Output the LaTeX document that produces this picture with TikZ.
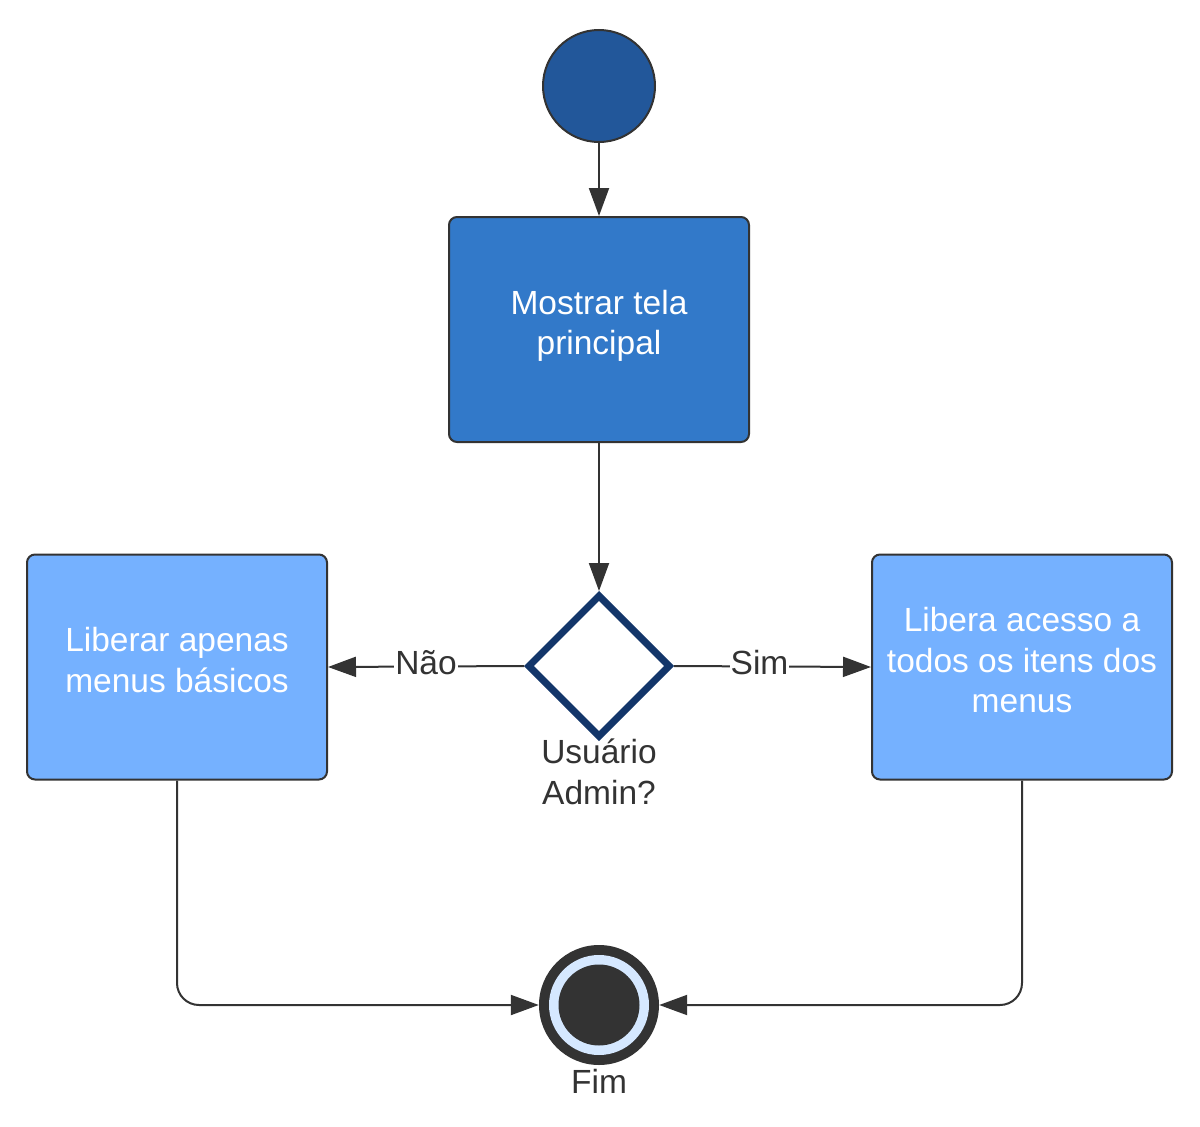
\documentclass[tikz,border=0pt]{standalone}
\usepackage{fontspec}
\setmainfont{Liberation Sans}
\usetikzlibrary{arrows.meta,shapes.geometric}
\definecolor{startblue}{HTML}{22579A}
\definecolor{mainblue}{HTML}{3279C9}
\definecolor{lightblue}{HTML}{75B1FF}
\definecolor{navy}{HTML}{13366A}
\definecolor{dark}{HTML}{333333}
\definecolor{ringblue}{HTML}{D5E8FF}
\tikzset{
  boxstyle/.style={rectangle, rounded corners=8pt, draw=dark, line width=2pt,
    minimum width=300pt, minimum height=225pt, inner sep=0pt, align=center,
    text=white, text depth=14pt, font=\fontsize{33.5}{40.5}\selectfont},
  arr/.style={draw=dark, line width=2pt, -{Triangle[length=28pt,width=20pt]}},
  lbl/.style={fill=white, inner xsep=1pt, inner ysep=0pt, text=dark, text height=18pt, text depth=0pt, font=\fontsize{33.5}{40.5}\selectfont},
  txt/.style={text=dark, inner sep=0pt, align=center, font=\fontsize{33.5}{40.5}\selectfont}
}
\begin{document}
\begin{tikzpicture}[x=1pt,y=-1pt]
\useasboundingbox (0,0) rectangle (1200,1127);
\node[circle, draw=dark, line width=2pt, fill=startblue, minimum size=112pt, inner sep=0pt] (start) at (599,86) {};
\node[boxstyle, fill=mainblue] (main) at (599,329.5) {Mostrar tela\\principal};
\node[diamond, draw=navy, fill=white, line width=7pt, minimum width=143pt, minimum height=143pt, inner sep=0pt] (dec) at (599,666) {};
\node[txt] (declbl) at (599,772) {Usuário\\Admin?};
\node[boxstyle, fill=lightblue] (left) at (177,667) {Liberar apenas\\menus básicos};
\node[boxstyle, fill=lightblue] (right) at (1022,667) {Libera acesso a\\todos os itens dos\\menus};
\node[circle, fill=dark, minimum size=120pt, inner sep=0pt] (end) at (599,1005) {};
\node[circle, fill=ringblue, minimum size=100pt, inner sep=0pt] (endring) at (end.center) {};
\node[circle, fill=dark, minimum size=81pt, inner sep=0pt] (enddot) at (end.center) {};
\node[txt] (endlbl) at (599,1081) {Fim};
\draw[arr] (start) -- (main);
\draw[arr] (main) -- (dec.north);
\draw[arr] (dec.west) -- node[lbl, pos=0.5, anchor=base, yshift=-8pt] {Não} (left.east);
\draw[arr] (dec.east) -- node[lbl, pos=0.434, anchor=base, yshift=-8pt] {Sim} (right.west);
\draw[arr, rounded corners=22pt] (left.south) |- (end.west);
\draw[arr, rounded corners=22pt] (right.south) |- (end.east);
\end{tikzpicture}
\end{document}
